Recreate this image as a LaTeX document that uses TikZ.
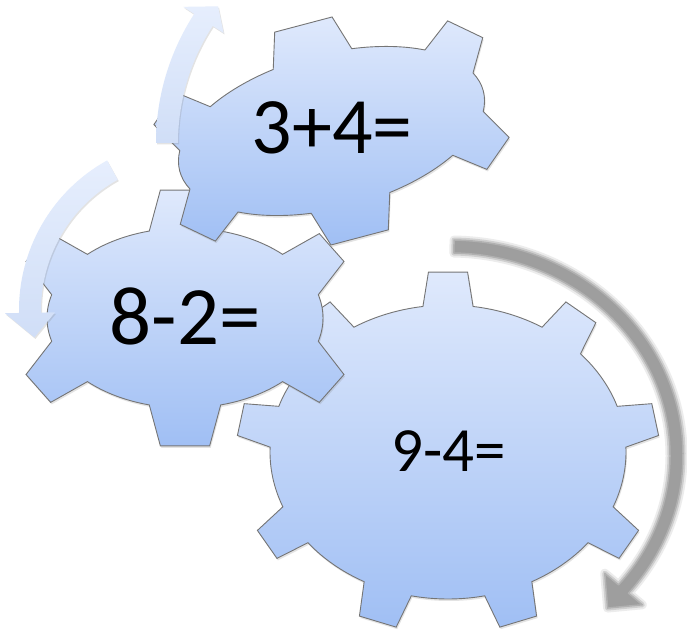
\documentclass[tikz,border=0pt]{standalone}
\usepackage{fontspec}
\setmainfont{Carlito}
\usetikzlibrary{calc,shadows}
\definecolor{gtop}{HTML}{DFE9FC}
\definecolor{gbot}{HTML}{A0BFF4}
\definecolor{gedge}{HTML}{757575}
\definecolor{atop}{HTML}{E6EEFD}
\definecolor{abot}{HTML}{D0DEF7}
\definecolor{garrow}{HTML}{9E9E9E}
\tikzset{
  gearbody/.style={top color=gtop, bottom color=gbot, draw=gedge, line width=0.9pt, line join=miter,
    drop shadow={shadow xshift=1pt, shadow yshift=-2pt, opacity=0.22}},
  turnarrow/.style={top color=atop, bottom color=abot, draw=none,
    drop shadow={shadow xshift=1pt, shadow yshift=-1.5pt, opacity=0.22}},
  geartext/.style={inner sep=0pt, text=black},
}
% a, b, N, tooth height, half angle of tooth base, taper of tip
\newcommand\gearpath[6]{%
  (90-#5:#1 and #2)
  \foreach \k [evaluate=\k as \gp using {90+(\k-1)*360/#3},
               evaluate=\k as \gq using {atan2(#1*sin(90+(\k-1)*360/#3), #2*cos(90+(\k-1)*360/#3))}]
      in {1,...,#3} {
    -- ($(\gp:#1 and #2)!#6!(\gp-#5:#1 and #2)+(\gq:#4)$)
    -- ($(\gp:#1 and #2)!#6!(\gp+#5:#1 and #2)+(\gq:#4)$)
    -- (\gp+#5:#1 and #2)
    arc[start angle=\gp+#5, end angle=\gp+360/#3-#5, x radius=#1, y radius=#2]
  } -- cycle}
\newcommand\grayarrow{(89:233 and 215) arc[start angle=89,end angle=-40,x radius=233,y radius=215]
  -- (-40:251 and 233) -- (-46.5:229 and 211) -- (-40:202 and 184)
  -- (-40:220 and 202) arc[start angle=-40,end angle=89,x radius=220,y radius=202] -- cycle}
\begin{document}
\begin{tikzpicture}[x=1pt,y=1pt]
\useasboundingbox (0,0) rectangle (687,644);
\fill[white] (0,0) rectangle (687,644);
% gray rotation arrow round the large gear
\coordinate (G) at (450,189);
\begin{scope}[shift={(G)}]
  \draw[line width=9pt, garrow!20, line join=round] \grayarrow;
  \draw[line width=5pt, garrow!50, line join=round] \grayarrow;
  \filldraw[fill=garrow, draw=garrow!80, line width=1.5pt, line join=round] \grayarrow;
\end{scope}
% large gear
\coordinate (C3) at (448,192);
\begin{scope}[shift={(C3)}]
  \path[gearbody] \gearpath{178}{147}{9}{34}{8.1}{0.78};
\end{scope}
% middle gear
\coordinate (C2) at (185,326);
\begin{scope}[shift={(C2)}]
  \path[gearbody] \gearpath{138}{90}{6}{40}{15}{0.69};
\end{scope}
% small gear
\coordinate (C1) at (331.5,513);
\begin{scope}[shift={(C1)}, rotate=14.8]
  \path[gearbody] \gearpath{157}{77}{6}{35}{15}{0.73};
\end{scope}
% light rotation arrows
\coordinate (A1) at (393,501);
\begin{scope}[shift={(A1)}]
  \path[turnarrow] (180:237) arc[start angle=180,end angle=147,radius=237]
    -- (147:250) -- (142:222) -- (147:202)
    -- (147:215) arc[start angle=147,end angle=180,radius=215] -- cycle;
\end{scope}
\coordinate (A2) at (190,334);
\begin{scope}[shift={(A2)}]
  \path[turnarrow] (119:171) arc[start angle=119,end angle=181,radius=171]
    -- (181:185) -- (190:158) -- (181:135)
    -- (181:149) arc[start angle=181,end angle=119,radius=149] -- cycle;
\end{scope}
% texts
\node[geartext, font=\fontsize{80}{96}\selectfont] (t1) at (332,516) {3+4=};
\node[geartext, font=\fontsize{83}{100}\selectfont] (t2) at (185,328) {8-2=};
\node[geartext, font=\fontsize{63}{76}\selectfont] (t3) at (449,193) {9-4=};
\end{tikzpicture}
\end{document}
